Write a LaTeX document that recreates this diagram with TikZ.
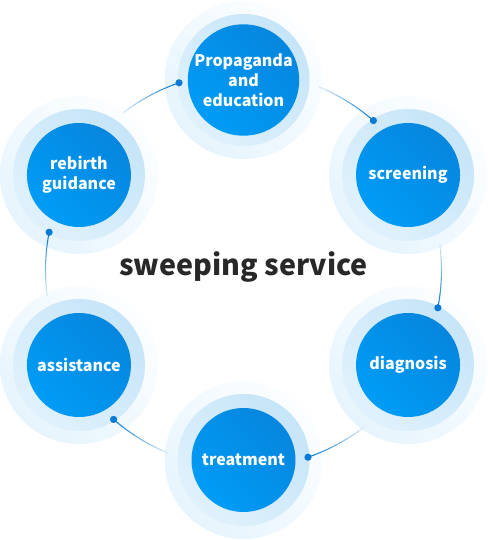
\documentclass[tikz,border=0pt]{standalone}
\usepackage{fontspec}
\newfontfamily\labelfont{Noto Sans CJK SC}
\usetikzlibrary{calc}
\definecolor{haloA}{RGB}{252,254,255}
\definecolor{haloB}{RGB}{230,244,253}
\definecolor{ringA}{RGB}{198,229,248}
\definecolor{ringB}{RGB}{224,241,252}
\definecolor{coreA}{RGB}{6,134,222}
\definecolor{coreB}{RGB}{0,156,246}
\definecolor{dotblue}{RGB}{10,122,212}
\definecolor{titlegray}{RGB}{40,40,40}
\tikzset{
  stepnode/.style={circle, inner sep=0pt, minimum size=78pt, left color=coreA, right color=coreB,
    shading angle=-45, text=white, align=center, font=\labelfont\bfseries\fontsize{12}{15}\selectfont},
  ringfill/.style={left color=ringA, right color=ringB, shading angle=-45},
  halofill/.style={left color=haloA, right color=haloB, shading angle=-45}
}
\begin{document}
\begin{tikzpicture}[x=0.75pt,y=0.75pt]
  \useasboundingbox (0,0) rectangle (487,540);
  \coordinate (O) at (243.5,270);
  % circles
  \foreach \a/\name/\txt in {90/prop/{Propaganda\\and\\education}, 30/scr/screening, -30/diag/diagnosis,
    -90/treat/treatment, -150/assist/assistance, 150/reb/{rebirth\\guidance}} {
    \shade[halofill] ($(O)+(\a:190)$) circle (79);
    \shade[ringfill] ($(O)+(\a:190)$) circle (66);
    \node[stepnode] (\name) at ($(O)+(\a:190)$) {\txt};
  }
  % connectors, fading away from the dot
  \foreach \a/\name in {90/prop, 30/scr, -30/diag, -90/treat, -150/assist, 150/reb} {
    \coordinate (\name dot) at ($(O)+(\a+19:198)$);
    \foreach \k in {0,...,9} {
      \pgfmathsetmacro\p{100-\k*9}
      \draw[dotblue!\p!white, line width=0.8pt] ($(O)+(\a+19+\k*1.85:198)$)
        arc[start angle=\a+19+\k*1.85, end angle=\a+19+\k*1.85+1.9, radius=198];
    }
    \fill[dotblue] (\name dot) circle (3.6);
  }
  \node[text=titlegray, font=\labelfont\bfseries\fontsize{21.5}{26}\selectfont] (title) at ($(O)+(0,3)$) {sweeping service};
\end{tikzpicture}
\end{document}
